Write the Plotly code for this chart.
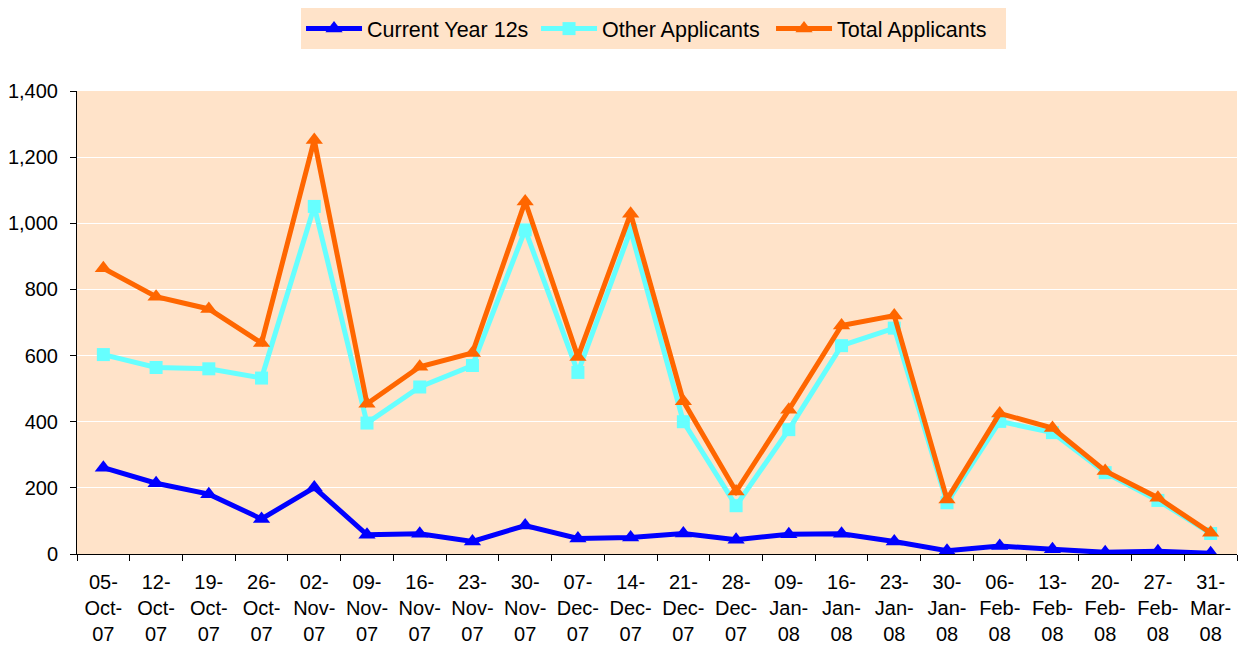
import plotly.graph_objects as go

categories = ["05-<br>Oct-<br>07", "12-<br>Oct-<br>07", "19-<br>Oct-<br>07", "26-<br>Oct-<br>07",
              "02-<br>Nov-<br>07", "09-<br>Nov-<br>07", "16-<br>Nov-<br>07", "23-<br>Nov-<br>07",
              "30-<br>Nov-<br>07", "07-<br>Dec-<br>07", "14-<br>Dec-<br>07", "21-<br>Dec-<br>07",
              "28-<br>Dec-<br>07", "09-<br>Jan-<br>08", "16-<br>Jan-<br>08", "23-<br>Jan-<br>08",
              "30-<br>Jan-<br>08", "06-<br>Feb-<br>08", "13-<br>Feb-<br>08", "20-<br>Feb-<br>08",
              "27-<br>Feb-<br>08", "31-<br>Mar-<br>08"]

current_year_12s = [261, 214, 181, 106, 201, 58, 61, 38, 86, 47, 50, 62, 43, 60, 61, 38, 10, 24, 14, 5, 8, 2]
other_applicants = [603, 564, 560, 532, 1051, 396, 505, 570, 980, 549, 979, 400, 146, 376, 630, 683, 155, 401, 367, 246, 162, 62]
total_applicants = [864, 778, 741, 638, 1252, 454, 566, 608, 1066, 596, 1029, 462, 189, 436, 691, 721, 165, 425, 381, 251, 170, 64]

y_ticks = [0, 200, 400, 600, 800, 1000, 1200, 1400]
y_tick_text = ["0", "200", "400", "600", "800", "1,000", "1,200", "1,400"]

fig = go.Figure()
fig.add_trace(go.Scatter(x=categories, y=current_year_12s, name="Current Year 12s",
                         mode="lines+markers", line=dict(color="#0000FF", width=5),
                         marker=dict(symbol="triangle-up", size=15, color="#0000FF")))
fig.add_trace(go.Scatter(x=categories, y=other_applicants, name="Other Applicants",
                         mode="lines+markers", line=dict(color="#66FFFF", width=5),
                         marker=dict(symbol="square", size=13, color="#66FFFF")))
fig.add_trace(go.Scatter(x=categories, y=total_applicants, name="Total Applicants",
                         mode="lines+markers", line=dict(color="#FF6600", width=5),
                         marker=dict(symbol="triangle-up", size=15, color="#FF6600")))

fig.update_layout(
    width=1243, height=644,
    margin=dict(l=69, r=14, t=83, b=98, autoexpand=False),
    paper_bgcolor="white",
    plot_bgcolor="#FFE3C9",
    font=dict(family="Liberation Sans, Arial, sans-serif", size=20, color="black"),
    showlegend=True,
    legend=dict(orientation="h", x=0.497, xanchor="center", y=1.179,
                yanchor="top", bgcolor="#FFE3C9", font=dict(size=21.5), itemwidth=56,
                entrywidth=164, traceorder="normal", tracegroupgap=0),
    xaxis=dict(type="category", showline=True, linecolor="black", linewidth=1,
               ticks="outside", tickson="boundaries", ticklen=6, tickcolor="black",
               showgrid=False, tickfont=dict(size=20), range=[-0.5, 21.5],
               ticklabelstandoff=10, automargin=False),
    yaxis=dict(range=[0, 1400], tickvals=y_ticks, ticktext=y_tick_text,
               showline=True, linecolor="black", linewidth=1, ticks="outside",
               ticklen=6, tickcolor="black", gridcolor="white", gridwidth=1,
               zeroline=False, tickfont=dict(size=20), ticklabelstandoff=8,
               automargin=False),
)

fig.write_html("out.html")
